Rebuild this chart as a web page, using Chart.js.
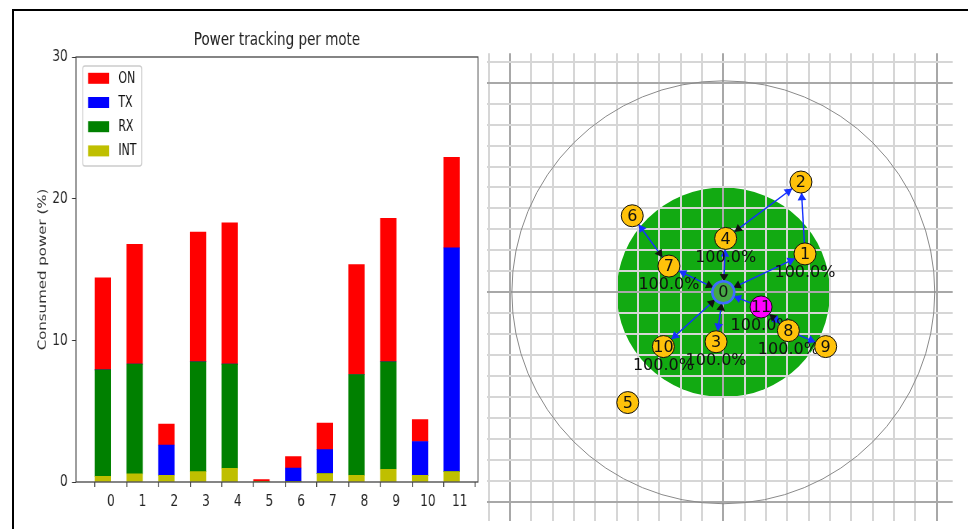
<!doctype html>
<html lang="en">
<head>
  <meta charset="utf-8">
  <title>Power tracking per mote</title>
  <style>
    * {
      margin: 0;
      padding: 0;
    }
    body {
      width: 968px;
      height: 529px;
      overflow: hidden;
      position: relative;
      background: white;
    }
    .frame {
      position: absolute;
      left: 12px;
      top: 9px;
      right: -10px;
      bottom: -10px;
      border-top: 2px solid black;
      border-left: 2px solid black;
    }
    /* the bar plot in the reference is squeezed sideways */
    #powerChart {
      position: absolute;
      left: 14px;
      top: 11px;
      transform: scaleX(0.73);
      transform-origin: 0 0;
    }
    #meshChart {
      position: absolute;
      left: 480px;
      top: 11px;
    }
  </style>
</head>
<body>
  <div class="frame"></div>
  <canvas id="powerChart" width="638" height="518"></canvas>
  <canvas id="meshChart" width="488" height="518"></canvas>

  <script src="https://cdn.jsdelivr.net/npm/chart.js"></script>
  <script>
    // ---- data: power per mote (% of time) ----
    const motes = [0, 1, 2, 3, 4, 5, 6, 7, 8, 9, 10, 11];
    const onPower  = [6.50, 8.45, 1.49, 9.15, 9.98, 0.14, 0.81, 1.87, 7.75, 10.12, 1.54, 6.38];
    const txPower  = [0, 0, 2.13, 0, 0, 0, 0.94, 1.70, 0, 0, 2.39, 15.80];
    const rxPower  = [7.52, 7.75, 0, 7.76, 7.35, 0, 0, 0, 7.12, 7.59, 0, 0];
    const intPower = [0.40, 0.57, 0.47, 0.73, 0.97, 0.03, 0.05, 0.59, 0.47, 0.90, 0.47, 0.73];
    const powerTicks = [0, 10, 20, 30];

    // ---- data: network layout ----
    const nodeX = [0, 3.83, 3.64, -0.34, 0.11, -4.48, -4.27, -2.55, 3.05, 4.80, -2.81, 1.77];
    const nodeY = [0, 1.83, 5.26, -2.36, 2.57, -5.26, 3.65, 1.25, -1.83, -2.59, -2.59, -0.70];
    const linkQuality = ['', '100.0%', '', '100.0%', '100.0%', '', '', '100.0%', '100.0%', '', '100.0%', '100.0%'];
    // blue links, arrow head at the second node
    const downLinks = [[0, 1], [0, 4], [0, 7], [7, 6], [4, 2], [1, 2], [0, 10], [0, 3], [11, 0], [11, 8], [8, 9]];
    // black arrow heads (child -> parent)
    const upLinks = [[1, 0], [4, 0], [7, 0], [6, 7], [2, 4], [10, 0], [3, 0], [8, 11]];
    const rangeRadius = 10;
    const coverRadius = 5;

    Chart.defaults.font.family = "'DejaVu Sans', sans-serif";
    Chart.defaults.animation = false;

    // =========== left: stacked bars ===========
    const barShift = 0.25;

    function barData(values) {
      return motes.map((m, i) => ({ x: m - barShift, y: values[i] }));
    }

    const plotFrame = {
      id: 'plotFrame',
      afterDraw(chart) {
        const { ctx, chartArea: a } = chart;
        ctx.save();
        ctx.strokeStyle = '#444';
        ctx.lineWidth = 1.3;
        ctx.strokeRect(a.left, a.top, a.right - a.left, a.bottom - a.top);
        ctx.restore();
      }
    };

    // legend box inside the axes, top left
    const insideLegend = {
      id: 'insideLegend',
      afterDraw(chart) {
        const { ctx, chartArea: a } = chart;
        const items = chart.data.datasets.slice().reverse();
        const left = a.left + 9.2, top = a.top + 9, w = 80.8, h = 100;
        ctx.save();
        ctx.fillStyle = 'rgba(255,255,255,0.85)';
        ctx.strokeStyle = '#cccccc';
        ctx.lineWidth = 1.3;
        ctx.beginPath();
        ctx.roundRect(left, top, w, h, 3);
        ctx.fill();
        ctx.stroke();
        ctx.font = "15px 'DejaVu Sans', sans-serif";
        ctx.textBaseline = 'middle';
        items.forEach((ds, i) => {
          const cy = top + 12.3 + i * 24.2;
          ctx.fillStyle = ds.backgroundColor;
          ctx.fillRect(left + 7.3, cy - 5.5, 28.8, 11);
          ctx.fillStyle = '#111';
          ctx.fillText(ds.label, left + 48.8, cy + 0.5);
        });
        ctx.restore();
      }
    };

    new Chart(document.getElementById('powerChart'), {
      type: 'bar',
      data: {
        datasets: [
          { label: 'INT', data: barData(intPower), backgroundColor: '#bfbf00' },
          { label: 'RX', data: barData(rxPower), backgroundColor: '#008000' },
          { label: 'TX', data: barData(txPower), backgroundColor: '#0000ff' },
          { label: 'ON', data: barData(onPower), backgroundColor: '#ff0000' }
        ]
      },
      options: {
        responsive: false,
        events: [],
        barThickness: 21.7,
        layout: { padding: { left: 0, right: 2.4, top: 0, bottom: 0 } },
        plugins: {
          legend: { display: false },
          tooltip: { enabled: false }
        },
        scales: {
          x: {
            type: 'linear',
            min: -1.1,
            max: 11.58,
            offset: false,
            stacked: true,
            border: { display: false },
            grid: { drawOnChartArea: false, drawTicks: true, tickLength: 5, color: '#333', lineWidth: 1.3 },
            ticks: { font: { size: 16.5 }, color: '#222', padding: 4.5, maxRotation: 0 },
            afterBuildTicks: axis => { axis.ticks = motes.map(v => ({ value: v })); },
            afterFit: axis => { axis.height = 47; }
          },
          xTop: {
            type: 'linear',
            position: 'top',
            display: true,
            min: -1.1,
            max: 11.58,
            border: { display: false },
            grid: { display: false, drawTicks: false },
            ticks: { display: false },
            title: {
              display: true,
              text: 'Power tracking per mote',
              color: '#222',
              font: { size: 18.5 },
              padding: { top: 17.9, bottom: 5.9 }
            },
            afterFit: axis => { axis.height = 46; }
          },
          y: {
            min: 0,
            max: 30,
            stacked: true,
            border: { display: false },
            grid: { drawOnChartArea: false, drawTicks: true, tickLength: 5.5, color: '#333', lineWidth: 1 },
            ticks: { font: { size: 16.5 }, color: '#222', padding: 6 },
            afterBuildTicks: axis => { axis.ticks = powerTicks.map(v => ({ value: v })); },
            title: {
              display: true,
              text: 'Consumed power (%)',
              color: '#333',
              font: { size: 15 },
              padding: { top: 30.7, bottom: 0 }
            },
            afterFit: axis => { axis.width = 84.9; }
          }
        }
      },
      plugins: [plotFrame, insideLegend]
    });

    // =========== right: mote topology ===========
    const nodeRadius = 11;
    const headSize = 5;
    const headGap = 0.75; // node radius + head size, in grid units

    function arrowHead(from, to) {
      const dx = nodeX[to] - nodeX[from];
      const dy = nodeY[to] - nodeY[from];
      const len = Math.hypot(dx, dy);
      return {
        x: nodeX[to] - dx / len * headGap,
        y: nodeY[to] - dy / len * headGap,
        angle: Math.atan2(dx, dy) * 180 / Math.PI
      };
    }
    const blueHeads = downLinks.map(l => arrowHead(l[0], l[1]));
    const blackHeads = upLinks.map(l => arrowHead(l[0], l[1]));

    const nodeFill = nodeX.map((v, i) => i === 0 ? '#46a946' : (i === 11 ? '#ff00ff' : '#ffc20a'));
    const nodeBorder = nodeX.map((v, i) => i === 0 ? '#3d6dff' : '#111');
    const nodeBorderWidth = nodeX.map((v, i) => i === 0 ? 2.5 : 1);

    function pxRadius(chart, r) {
      const s = chart.scales;
      if (!s.x || !s.y) return 0;
      const rx = Math.abs(s.x.getPixelForValue(r) - s.x.getPixelForValue(0));
      const ry = Math.abs(s.y.getPixelForValue(r) - s.y.getPixelForValue(0));
      const v = (rx + ry) / 2;
      return isFinite(v) ? v : 0;
    }

    // green coverage disk goes under the grid
    const coverage = {
      id: 'coverage',
      beforeDraw(chart) {
        const { ctx, scales } = chart;
        const cx = scales.x.getPixelForValue(0);
        const cy = scales.y.getPixelForValue(0);
        const rx = Math.abs(scales.x.getPixelForValue(coverRadius) - cx);
        const ry = Math.abs(scales.y.getPixelForValue(coverRadius) - cy);
        ctx.save();
        ctx.fillStyle = '#12aa12';
        ctx.beginPath();
        ctx.ellipse(cx, cy, rx, ry, 0, 0, Math.PI * 2);
        ctx.fill();
        ctx.restore();
      }
    };

    // link quality under the nodes, node ids on top
    const nodeText = {
      id: 'nodeText',
      beforeDatasetDraw(chart, args) {
        if (args.index !== 0) return;
        const { ctx } = chart;
        const pts = chart.getDatasetMeta(0).data;
        ctx.save();
        ctx.font = "16px 'DejaVu Sans', sans-serif";
        ctx.fillStyle = '#111';
        ctx.textAlign = 'center';
        ctx.textBaseline = 'middle';
        pts.forEach((p, i) => {
          if (linkQuality[i]) ctx.fillText(linkQuality[i], p.x, p.y + 19);
        });
        ctx.restore();
      },
      afterDatasetsDraw(chart) {
        const { ctx } = chart;
        const pts = chart.getDatasetMeta(0).data;
        ctx.save();
        ctx.font = "16px 'DejaVu Sans', sans-serif";
        ctx.fillStyle = '#111';
        ctx.textAlign = 'center';
        ctx.textBaseline = 'middle';
        pts.forEach((p, i) => ctx.fillText(String(i), p.x, p.y + 1));
        ctx.restore();
      }
    };

    const linkSets = downLinks.map(l => ({
      data: [{ x: nodeX[l[0]], y: nodeY[l[0]] }, { x: nodeX[l[1]], y: nodeY[l[1]] }],
      showLine: true,
      borderColor: '#1530ff',
      borderWidth: 1.4,
      pointRadius: 0,
      order: 3
    }));

    new Chart(document.getElementById('meshChart'), {
      type: 'scatter',
      data: {
        datasets: [
          {
            data: nodeX.map((x, i) => ({ x, y: nodeY[i] })),
            pointRadius: nodeRadius,
            backgroundColor: nodeFill,
            borderColor: nodeBorder,
            borderWidth: nodeBorderWidth,
            order: 0
          },
          {
            data: [{ x: 0, y: 0 }],
            pointRadius: ctx => pxRadius(ctx.chart, rangeRadius),
            backgroundColor: 'rgba(0,0,0,0)',
            borderColor: '#8a8a8a',
            borderWidth: 1,
            order: 5
          },
          ...linkSets,
          {
            data: blackHeads.map(h => ({ x: h.x, y: h.y })),
            pointStyle: 'triangle',
            pointRotation: blackHeads.map(h => h.angle),
            pointRadius: headSize,
            backgroundColor: '#111',
            borderWidth: 0,
            order: 2
          },
          {
            data: blueHeads.map(h => ({ x: h.x, y: h.y })),
            pointStyle: 'triangle',
            pointRotation: blueHeads.map(h => h.angle),
            pointRadius: headSize,
            backgroundColor: '#1530ff',
            borderWidth: 0,
            order: 1
          }
        ]
      },
      options: {
        responsive: false,
        events: [],
        layout: { autoPadding: false, padding: { left: 7, right: 15.3, top: 42.3, bottom: 8 } },
        plugins: {
          legend: { display: false },
          tooltip: { enabled: false }
        },
        scales: {
          x: {
            min: -11.08,
            max: 10.755,
            border: { display: false },
            grid: {
              drawTicks: false,
              lineWidth: 2,
              color: ctx => ctx.tick && ctx.tick.value % 10 === 0 ? '#a8a8a8' : '#d6d6d6'
            },
            ticks: { display: false, stepSize: 1, includeBounds: false, maxTicksLimit: 100 }
          },
          y: {
            min: -10.91,
            max: 11.40,
            border: { display: false },
            grid: {
              drawTicks: false,
              lineWidth: 2,
              color: ctx => ctx.tick && ctx.tick.value % 10 === 0 ? '#a8a8a8' : '#d6d6d6'
            },
            ticks: { display: false, stepSize: 1, includeBounds: false, maxTicksLimit: 100 }
          }
        }
      },
      plugins: [coverage, nodeText]
    });
  </script>
</body>
</html>
